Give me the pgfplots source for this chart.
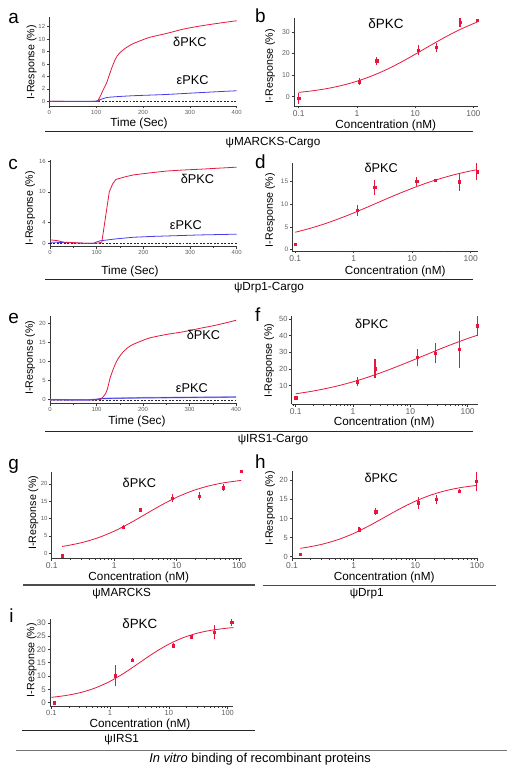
\documentclass[border=0pt]{standalone}
\usepackage{pgfplots}
\pgfplotsset{compat=1.18}
\usepackage{fontspec}
\setmainfont{Liberation Sans}
\newcommand\fs[1]{\fontsize{#1}{#1}\selectfont}
\definecolor{pkcred}{RGB}{232,22,60}
\definecolor{pkcblue}{RGB}{70,60,235}
\definecolor{axgray}{RGB}{55,55,55}
\definecolor{tickgray}{RGB}{95,95,95}
\pgfplotsset{
  base/.style={scale only axis, anchor=south west, axis lines*=left,
    axis line style={draw=axgray,line width=0.6pt,-}, tick align=outside,
    major tick length=2.5bp, minor tick length=1.5bp,
    tick style={draw=axgray,line width=0.5pt},
    tick label style={text=tickgray, inner sep=1.5pt},
    /pgf/number format/assume math mode=true, clip=false, scaled ticks=false},
  tp/.style={base, xmin=0, xmax=400, xtick={0,100,200,300,400}, minor x tick num=1,
    tick label style={font=\fs{6}}},
  cp/.style={base, xtick={0.1,1,10,100}, xticklabels={0.1,1,10,100},
    minor xtick={0.09,0.2,0.3,0.4,0.5,0.6,0.7,0.8,0.9,2,3,4,5,6,7,8,9,20,30,40,50,60,70,80,90},
    xticklabel style={font=\fs{8.5}}, yticklabel style={font=\fs{7}}},
  fitline/.style={pkcred, line width=0.8pt, smooth},
  pts/.style={pkcred, only marks, mark=square*, mark size=1.2bp,
    mark options={draw=pkcred, fill=pkcred}},
  ebar/.style={color=pkcred, draw=pkcred, line width=1.1pt, mark=none, unbounded coords=jump},
  zero/.style={black!85, line width=0.4pt, dash pattern=on 2pt off 1.5pt},
  redt/.style={pkcred, line width=0.8pt},
  bluet/.style={pkcblue, line width=0.8pt},
}
\begin{document}
\begin{tikzpicture}
\path[use as bounding box] (0,0) rectangle (517bp,775bp);

% ---------------- panel a
\begin{axis}[tp, at={(49.3bp,669bp)}, width=187.4bp, height=89bp,
  ymin=-0.75, ymax=13.55, ytick={0,2,4,6,8,10,12}]
\addplot[zero] coordinates {(0,0) (400,0)};
\addplot[bluet, smooth] table {
t y
0 0
95 0
100 0.05
110 0.3
122 0.6
144 0.75
179 0.9
215 1.0
250 1.1
286 1.25
322 1.4
360 1.55
400 1.7
};
\addplot[redt, smooth] table {
t y
0 0
100 0
105 0.3
110 1.0
116 2.0
122 2.9
128 4.2
133 5.3
140 6.6
145 7.3
152 7.9
160 8.4
170 8.9
180 9.3
200 9.9
215 10.3
250 10.9
286 11.6
322 12.1
357 12.5
400 12.95
};
\node[font=\fs{12.8}] at (axis cs:300,9.6) {δPKC};
\node[font=\fs{12.8}] at (axis cs:306,3.4) {εPKC};
\end{axis}

% ---------------- panel b
\begin{axis}[xmode=log, cp, at={(294bp,669bp)}, width=184bp, height=88bp,
  xmin=0.083, xmax=120, ymin=-4.35, ymax=36.5, ytick={0,10,20,30}]
\addplot[fitline] table {
x y
0.1 1.96
0.1778 2.74
0.3162 3.81
0.5623 5.25
1 7.14
1.778 9.54
3.162 12.46
5.623 15.88
10 19.65
17.78 23.57
31.62 27.4
56.23 30.89
100 33.9
117.5 34.7
};
\addplot[ebar] table {
x y
0.1 -3.2
0.1 1.6
nan nan
1.1 5.3
1.1 8.7
nan nan
2.2 14.6
2.2 18.6
nan nan
11.4 19.2
11.4 23.8
nan nan
23 20.9
23 24.9
nan nan
59 32.5
59 36.5
nan nan
115 34.9
115 36.1
};
\addplot[pts] table {
x y
0.1 -0.8
1.1 7.0
2.2 16.6
11.4 21.5
23 22.9
59 34.5
115 35.5
};
\node[font=\fs{13.5}] at (rel axis cs:0.5,0.94) {δPKC};
\end{axis}

% ---------------- panel c
\begin{axis}[tp, at={(50bp,528.5bp)}, width=186.7bp, height=86.5bp,
  ymin=-0.65, ymax=16.2, ytick={0,4,10,16}]
\addplot[zero] coordinates {(0,0) (400,0)};
\addplot[bluet] table {
t y
0 0.2
36 0.1
70 0.0
93 0.0
107 0.45
125 0.65
143 0.85
179 1.15
215 1.3
250 1.4
321 1.6
400 1.75
};
\addplot[redt] table {
t y
0 0.65
15 0.5
29 0.2
50 0.1
71 0.0
93 -0.05
105 0.05
111 0.2
127 10.0
134 11.5
141 12.4
160 12.9
179 13.3
215 13.7
250 14.05
285 14.25
321 14.4
360 14.6
400 14.8
};
\node[font=\fs{12.8}] at (axis cs:316,12.6) {δPKC};
\node[font=\fs{12.8}] at (axis cs:291,3.6) {εPKC};
\end{axis}

% ---------------- panel d
\begin{axis}[xmode=log, cp, at={(292.3bp,524bp)}, width=185.4bp, height=88bp,
  xmin=0.089, xmax=132, ymin=-0.3, ymax=19.1, ytick={0,5,10,15},
  yticklabel style={font=\fs{6.5}}]
\addplot[fitline] table {
x y
0.1 3.83
0.1778 4.68
0.3162 5.68
0.5623 6.83
1 8.10
1.778 9.46
3.162 10.86
5.623 12.23
10 13.52
17.78 14.70
31.62 15.73
56.23 16.62
100 17.35
125.9 17.6
};
\addplot[ebar] table {
x y
0.1 0.95
0.1 1.55
nan nan
1.16 7.5
1.16 9.9
nan nan
2.3 12.15
2.3 15.35
nan nan
12 14.1
12 16.1
nan nan
24.7 15.0
24.7 15.6
nan nan
64 13.0
64 17.0
nan nan
128 15.3
128 19.1
};
\addplot[pts] table {
x y
0.1 1.25
1.16 8.7
2.3 13.75
12 15.1
24.7 15.3
64 15.0
128 17.2
};
\node[font=\fs{12.8}] at (rel axis cs:0.48,0.94) {δPKC};
\end{axis}

% ---------------- panel e
\begin{axis}[tp, at={(50bp,371.7bp)}, width=186bp, height=87.6bp,
  ymin=-0.94, ymax=22, ytick={0,5,10,15,20}]
\addplot[zero] coordinates {(0,0) (400,0)};
\addplot[pkcblue!45, line width=1.6pt] table {
t y
0 0
80 -0.1
100 0.1
110 0.3
150 0.4
200 0.5
300 0.6
400 0.7
};
\addplot[bluet] table {
t y
0 0
80 -0.1
100 0.1
110 0.3
150 0.4
200 0.5
300 0.6
400 0.7
};
\addplot[redt, smooth] table {
t y
0 0
100 0
105 0.1
111 0.35
120 1.7
125 3.5
129 5.6
136 8.0
143 10.0
150 11.4
158 12.6
168 13.7
179 14.5
197 15.4
215 16.2
251 17.1
287 17.8
323 18.7
360 19.6
400 20.8
};
\node[font=\fs{12.8}] at (axis cs:330,16.9) {δPKC};
\node[font=\fs{12.8}] at (axis cs:305,3.0) {εPKC};
\end{axis}

% ---------------- panel f
\begin{axis}[xmode=log, cp, at={(291.7bp,370.7bp)}, width=186bp, height=88.6bp,
  xmin=0.085, xmax=150, ymin=-1.2, ymax=52, ytick={10,20,30,40,50},
  yticklabel style={font=\fs{7.5}}]
\addplot[fitline] table {
x y
0.1 5.11
0.1778 6.44
0.3162 8.06
0.5623 10.01
1 12.31
1.778 14.96
3.162 17.94
5.623 21.20
10 24.66
17.78 28.21
31.62 31.74
56.23 35.13
100 38.29
147.9 40.26
};
\addplot[ebar] table {
x y
0.1 1.8
0.1 3.8
nan nan
1.19 9.9
1.19 14.9
nan nan
2.42 14.5
2.42 25.9
nan nan
13.2 22
13.2 32
nan nan
27.3 23.4
27.3 35.4
nan nan
71.6 20.8
71.6 42.8
nan nan
147 40
147 52
};
\addplot[pts] table {
x y
0.1 2.8
1.19 12.4
2.42 20.2
13.2 27
27.3 29.4
71.6 31.8
147 46
};
\node[font=\fs{12.8}] at (rel axis cs:0.43,0.91) {δPKC};
\end{axis}

% ---------------- panel g
\begin{axis}[xmode=log, cp, at={(51.7bp,216.7bp)}, width=190.5bp, height=86.6bp,
  xmin=0.1, xmax=112, ymin=-1.44, ymax=23.5, ytick={0,5,10,15,20},
  yticklabel style={font=\fs{6}}]
\addplot[fitline] table {
x y
0.1462 1.97
0.1778 2.21
0.3162 3.16
0.5623 4.53
1 6.37
1.778 8.67
3.162 11.25
5.623 13.83
10 16.13
17.78 17.97
31.62 19.34
56.23 20.29
100 20.92
107.2 20.97
};
\addplot[ebar] table {
x y
1.39 6.9
1.39 8.1
nan nan
8.5 14.7
8.5 17.1
nan nan
23.2 15.3
23.2 17.7
nan nan
55.6 17.9
55.6 19.9
};
\addplot[pts] table {
x y
0.146 -0.7
1.39 7.5
2.6 12.6
8.5 15.9
23.2 16.5
55.6 18.9
107 23.6
};
\node[font=\fs{12.8}] at (rel axis cs:0.46,0.87) {δPKC};
\end{axis}

% ---------------- panel h
\begin{axis}[xmode=log, cp, at={(292bp,216.7bp)}, width=186bp, height=87.6bp,
  xmin=0.1, xmax=104, ymin=-0.42, ymax=22.5, ytick={0,5,10,15,20},
  yticklabel style={font=\fs{7.5}}]
\addplot[fitline] table {
x y
0.1361 2.20
0.1778 2.48
0.3162 3.30
0.5623 4.48
1 6.08
1.778 8.07
3.162 10.3
5.623 12.53
10 14.52
17.78 16.12
31.62 17.30
56.23 18.12
100 18.66
};
\addplot[ebar] table {
x y
1.22 6.5
1.22 7.7
nan nan
2.29 10.8
2.29 12.8
nan nan
11.2 12.6
11.2 15.6
nan nan
21.9 13.8
21.9 16.2
nan nan
51.7 16.6
51.7 17.6
nan nan
98 17.2
98 22.2
};
\addplot[pts] table {
x y
0.136 0.6
1.22 7.1
2.29 11.8
11.2 14.1
21.9 15.0
51.7 17.1
98 19.7
};
\node[font=\fs{12.8}] at (rel axis cs:0.48,0.92) {δPKC};
\end{axis}

% ---------------- panel i
\begin{axis}[xmode=log, cp, at={(50bp,69bp)}, width=183.3bp, height=86.7bp,
  xmin=0.095, xmax=125, ymin=-1.24, ymax=31.3, ytick={0,5,10,15,20,25,30},
  xticklabel style={font=\fs{7.5}}, yticklabel style={font=\fs{8}}]
\addplot[fitline] table {
x y
0.1 2.01
0.1778 2.71
0.3162 3.82
0.5623 5.55
1 8.03
1.778 11.26
3.162 15.0
5.623 18.73
10 21.97
17.78 24.45
31.62 26.18
56.23 27.29
100 27.99
125.9 28.18
};
\addplot[ebar] table {
x y
1.22 6.2
1.22 14.0
nan nan
2.4 15.4
2.4 16.6
nan nan
11.8 20.4
11.8 22.4
nan nan
23.8 24.25
23.8 25.25
nan nan
59 23.8
59 29.0
nan nan
117 28.9
117 31.3
};
\addplot[pts] table {
x y
0.113 0
1.22 10.1
2.4 16.0
11.8 21.4
23.8 24.75
59 26.4
117 30.1
};
\node[font=\fs{13.4}] at (rel axis cs:0.49,0.95) {δPKC};
\end{axis}

% ---------------- axis labels
\begin{scope}[every node/.style={font=\fs{11.8}, inner sep=1pt}]
\node at (139bp,652bp) {Time (Sec)};
\node at (385.8bp,650bp) {Concentration (nM)};
\node at (130bp,504bp) {Time (Sec)};
\node at (395.2bp,504bp) {Concentration (nM)};
\node at (137bp,353.3bp) {Time (Sec)};
\node at (384.2bp,353bp) {Concentration (nM)};
\node at (138.8bp,197.5bp) {Concentration (nM)};
\node at (384.2bp,197.5bp) {Concentration (nM)};
\node at (140bp,50.5bp) {Concentration (nM)};
\end{scope}
\begin{scope}[every node/.style={font=\fs{10.7},rotate=90, inner sep=1pt}]
\node at (31.7bp,712.7bp) {I-Response (\%)};
\node at (270bp,709bp) {I-Response (\%)};
\node at (30bp,566.7bp) {I-Response (\%)};
\node at (270bp,565bp) {I-Response (\%)};
\node at (30bp,417.5bp) {I-Response (\%)};
\node at (269bp,414.2bp) {I-Response (\%)};
\node at (33.3bp,262.5bp) {I-Response (\%)};
\node at (270bp,266.7bp) {I-Response (\%)};
\node at (31.7bp,115bp) {I-Response (\%)};
\end{scope}
% panel letters
\begin{scope}[every node/.style={font=\fs{19},anchor=base west,inner sep=0pt}]
\node at (8.3bp,751.7bp) {a};
\node at (255bp,752.3bp) {b};
\node at (8.3bp,605.7bp) {c};
\node at (255bp,606.7bp) {d};
\node at (8.3bp,451.7bp) {e};
\node at (255bp,453.3bp) {f};
\node at (8.3bp,305bp) {g};
\node at (255bp,306.7bp) {h};
\node at (9.3bp,152.3bp) {i};
\end{scope}
% separators and group labels
\draw[line width=0.8pt, black!85] (45bp,643.3bp) -- (473bp,643.3bp);
\draw[line width=0.8pt, black!85] (45bp,495.7bp) -- (473bp,495.7bp);
\draw[line width=0.8pt, black!85] (45bp,344bp) -- (473bp,344bp);
\draw[line width=1.1pt, black!70] (23bp,190bp) -- (255bp,190bp);
\draw[line width=0.7pt, black!70] (263bp,190bp) -- (496bp,190bp);
\draw[line width=0.8pt, black!85] (21.7bp,44.3bp) -- (255bp,44.3bp);
\draw[line width=0.8pt, black!55] (16bp,25bp) -- (506.7bp,25bp);
\begin{scope}[every node/.style={font=\fs{11.8}}]
\node at (273bp,632bp) {ψMARCKS-Cargo};
\node at (269bp,487bp) {ψDrp1-Cargo};
\node at (273bp,335bp) {ψIRS1-Cargo};
\node at (121.7bp,181.7bp) {ψMARCKS};
\node at (366.7bp,181bp) {ψDrp1};
\node at (121.7bp,35bp) {ψIRS1};
\node[font=\fs{12.9}] at (260bp,16bp) {\textit{In vitro} binding of recombinant proteins};
\end{scope}
\end{tikzpicture}
\end{document}
